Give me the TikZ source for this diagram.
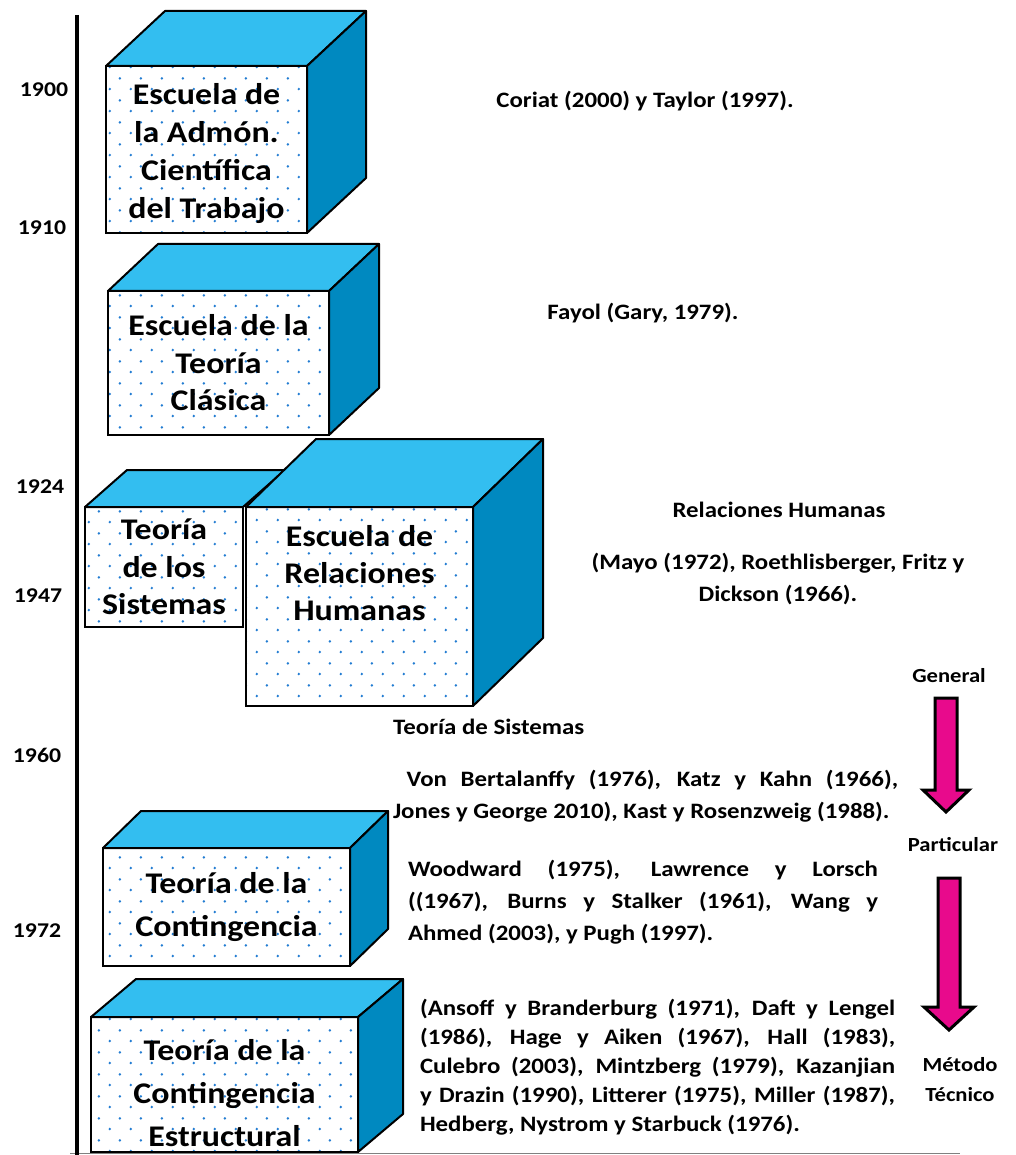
\documentclass[tikz,border=0pt]{standalone}
\usepackage{fontspec}
\setmainfont{Carlito}[FakeStretch=1.13]
\usetikzlibrary{patterns.meta,positioning}

\definecolor{topblue}{RGB}{51,190,240}
\definecolor{sideblue}{RGB}{0,137,192}
\definecolor{dotblue}{RGB}{35,125,210}
\definecolor{arrowpink}{RGB}{232,10,140}

\tikzdeclarepattern{
  name=bluedots,
  type=colored,
  bottom left={(0pt,0pt)},
  top right={(21pt,21.6pt)},
  tile size={(21pt,21.6pt)},
  code={
    \fill[dotblue] (5pt,5pt) circle (1.4pt);
    \fill[dotblue] (15.5pt,15.8pt) circle (1.4pt);
  }
}

\tikzset{
  front/.style={draw=black, line width=2pt, inner sep=0pt, outer sep=0pt,
    preaction={fill=white}, pattern=bluedots, align=center,
    font=\bfseries\fontsize{30}{37.5}\selectfont},
  boxtext/.style={align=center, inner sep=0pt, font=\bfseries\fontsize{30}{37}\selectfont},
  topface/.style={draw=black, line width=2pt, fill=topblue, line join=round},
  sideface/.style={draw=black, line width=2pt, fill=sideblue, line join=round},
  year/.style={font=\bfseries\fontsize{21}{25}\selectfont, inner sep=0pt},
  refs/.style={font=\bfseries\fontsize{22}{32}\selectfont, inner sep=0pt},
  levellabel/.style={font=\bfseries\fontsize{20}{30}\selectfont, inner sep=0pt, align=center},
  bigarrow/.style={draw=black, line width=3pt, fill=arrowpink, line join=miter}
}

\begin{document}
\begin{tikzpicture}[x=1pt,y=-1pt]
  \useasboundingbox (0,0) rectangle (1015,1155);
  \clip (0,0) rectangle (1015,1155);

  \coordinate (axistop) at (77,15);
  \coordinate (axisbot) at (77,1160);
  \coordinate (baseleft) at (70,1153);
  \coordinate (baseright) at (960,1153);
  \draw[gray, line width=1pt] (baseleft) -- (baseright);
  \draw[line width=3.5pt] (axistop) -- (axisbot);

  \begin{scope}[every node/.style={year}]
    \node (y1900) at (44,90) {1900};
    \node (y1910) at (42,228) {1910};
    \node (y1924) at (40,487) {1924};
    \node (y1947) at (38,596) {1947};
    \node (y1960) at (37,755) {1960};
    \node (y1972) at (37,931) {1972};
  \end{scope}

  \begin{scope}[every node/.style={front}]
    \node[minimum width=201pt, minimum height=167pt] (cientifica) at (206.5,149.5) {};
    \node[minimum width=221pt, minimum height=144pt] (clasica) at (218.5,363) {Escuela de la\\Teoría\\Clásica};
    \node[minimum width=158pt, minimum height=120pt] (sistemas) at (164,567) {Teoría\\de los\\Sistemas};
    \node[minimum width=227pt, minimum height=199pt] (relhum) at (359.5,606.5) {};
    \node[minimum width=247pt, minimum height=118pt, font=\bfseries\fontsize{30}{43}\selectfont] (contingencia) at (226.5,907) {Teoría de la\\Contingencia};
    \node[minimum width=267pt, minimum height=135pt] (estructural) at (224.5,1084.5) {};
  \end{scope}

  \node[boxtext, font=\bfseries\fontsize{30}{38}\selectfont] (cientificatxt) at (206.5,154) {Escuela de\\la Admón.\\Científica\\del Trabajo};
  \node[boxtext] (relhumtxt) at (359.5,573) {Escuela de\\Relaciones\\Humanas};
  \node[boxtext, font=\bfseries\fontsize{30}{43}\selectfont] (estructuraltxt) at (224.5,1093) {Teoría de la\\Contingencia\\Estructural};

  \draw[topface] (cientifica.north west) -- ++(59,-55) -- ([shift={(59,-55)}]cientifica.north east) -- (cientifica.north east) -- cycle;
  \draw[sideface] (cientifica.north east) -- ++(59,-55) -- ([shift={(59,-55)}]cientifica.south east) -- (cientifica.south east) -- cycle;
  \draw[topface] (clasica.north west) -- ++(50,-47) -- ([shift={(50,-47)}]clasica.north east) -- (clasica.north east) -- cycle;
  \draw[sideface] (clasica.north east) -- ++(50,-47) -- ([shift={(50,-47)}]clasica.south east) -- (clasica.south east) -- cycle;
  \draw[topface] (sistemas.north west) -- ++(42,-37) -- ([shift={(42,-37)}]sistemas.north east) -- (sistemas.north east) -- cycle;
  \draw[topface] (relhum.north west) -- ++(70,-68) -- ([shift={(70,-68)}]relhum.north east) -- (relhum.north east) -- cycle;
  \draw[sideface] (relhum.north east) -- ++(70,-68) -- ([shift={(70,-68)}]relhum.south east) -- (relhum.south east) -- cycle;
  \draw[topface] (contingencia.north west) -- ++(38,-37) -- ([shift={(38,-37)}]contingencia.north east) -- (contingencia.north east) -- cycle;
  \draw[sideface] (contingencia.north east) -- ++(38,-37) -- ([shift={(38,-37)}]contingencia.south east) -- (contingencia.south east) -- cycle;
  \draw[topface] (estructural.north west) -- ++(45,-38) -- ([shift={(45,-38)}]estructural.north east) -- (estructural.north east) -- cycle;
  \draw[sideface] (estructural.north east) -- ++(45,-38) -- ([shift={(45,-38)}]estructural.south east) -- (estructural.south east) -- cycle;

  \begin{scope}[every node/.style={refs}]
    \node (coriat) at (645,101) {Coriat (2000) y Taylor (1997).};
    \node (fayol) at (643,313) {Fayol (Gary, 1979).};
    \node (rhtitle) at (779,510) {Relaciones Humanas};
    \node[align=center] (mayo) at (778,579) {(Mayo (1972), Roethlisberger, Fritz y\\Dickson (1966).};
    \node[anchor=west] (tstitle) at (393,727) {Teoría de Sistemas};
    \node[text width=505pt, align=justify] (vonbert) at (645.5,796) {\ Von Bertalanffy (1976), Katz y Kahn (1966),\linebreak Jones y George 2010), Kast y Rosenzweig (1988).};
    \node[text width=470pt, align=justify] (woodward) at (643,902.5) {Woodward (1975), Lawrence y Lorsch\linebreak ((1967), Burns y Stalker (1961), Wang y\linebreak Ahmed (2003), y Pugh (1997).};
    \node[text width=475pt, align=justify, font=\bfseries\fontsize{22}{29}\selectfont] (ansoff) at (657.5,1067.5) {(Ansoff y Branderburg (1971), Daft y Lengel\linebreak (1986), Hage y Aiken (1967), Hall (1983),\linebreak Culebro (2003), Mintzberg (1979), Kazanjian\linebreak y Drazin (1990), Litterer (1975), Miller (1987),\linebreak Hedberg, Nystrom y Starbuck (1976).};
  \end{scope}

  \begin{scope}[every node/.style={levellabel}]
    \node (general) at (949,676) {General};
    \node (particular) at (953,845) {Particular};
    \node (metodo) at (960,1080) {Método\\Técnico};
  \end{scope}

  \coordinate (arrowone) at (935,698);
  \coordinate (arrowtwo) at (938,878);
  \draw[bigarrow] (arrowone) -- ++(22,0) -- ++(0,92) -- ++(12,0) -- ++(-23,22) -- ++(-23,-22) -- ++(12,0) -- cycle;
  \draw[bigarrow] (arrowtwo) -- ++(22,0) -- ++(0,129) -- ++(14,0) -- ++(-25,23) -- ++(-25,-23) -- ++(14,0) -- cycle;
\end{tikzpicture}
\end{document}
